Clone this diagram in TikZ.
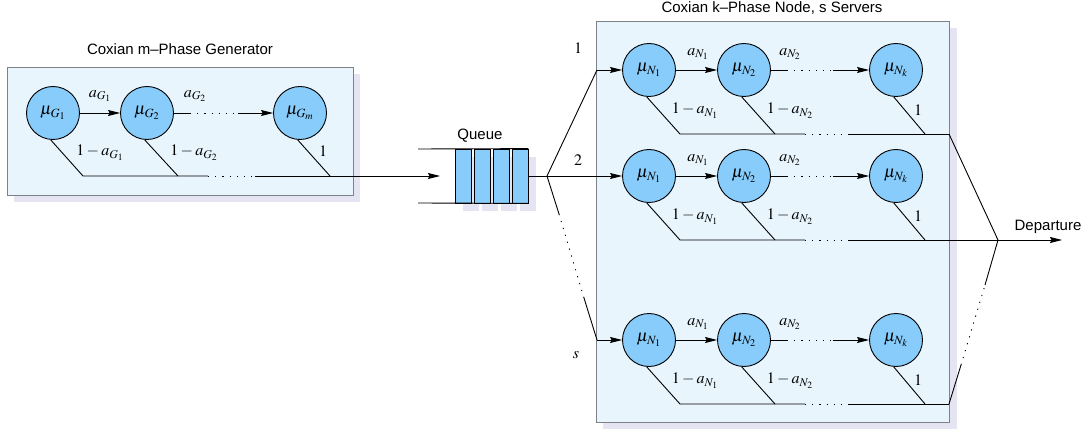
\documentclass[tikz,border=0pt]{standalone}
\usepackage{mathptmx}
\usepackage{fontspec}
\setmainfont{Liberation Sans}
\usetikzlibrary{arrows.meta}

\definecolor{boxfill}{RGB}{232,245,253}
\definecolor{boxline}{RGB}{125,130,135}
\definecolor{lavender}{RGB}{228,228,243}
\definecolor{phaseblue}{RGB}{135,204,250}
\newcommand\mlabel{\fontsize{16}{18}\selectfont}

\begin{document}
\begin{tikzpicture}[x=1pt,y=-1pt,line width=0.9pt,
    >={Stealth[length=12pt,width=6pt,inset=1.5pt]},
    phase/.style={circle,draw,fill=phaseblue,minimum size=53pt,inner sep=0pt,font=\fontsize{17}{19}\selectfont},
    panel/.style={draw=boxline,fill=boxfill,line width=0.8pt},
    backdrop/.style={fill=lavender},
    prob/.style={font=\mlabel,inner sep=1pt},
    heading/.style={font=\fontsize{15}{17}\selectfont,anchor=base,inner sep=0pt},
    dotline/.style={dash pattern=on 1.2pt off 6pt},
    cell/.style={draw,fill=phaseblue,line width=0.8pt,minimum width=16pt,minimum height=54pt,inner sep=0pt}]
\useasboundingbox (0,0) rectangle (1083,430);

% Generator panel
\fill[backdrop] (14,74) rectangle (360,202);
\draw[panel] (7,67) rectangle (353,195);
\node[heading] (gtitle) at (180,55) {Coxian m\textendash Phase Generator};

% Generator phases
\node[phase] (g1) at (53,113) {$\mu_{G_1}$};
\node[phase] (g2) at (147,113) {$\mu_{G_2}$};
\node[phase] (gm) at (300,113) {$\mu_{G_m}$};
\coordinate (gd1) at (190,113);
\coordinate (gd2) at (238,113);
\draw[->] (g1) -- (g2);
\draw (g2) -- (gd1);
\draw[dotline] (gd1) -- (gd2);
\draw[->] (gd2) -- (gm);
\node[prob] (ag1) at (100,96) {$a_{G_1}$};
\node[prob] (ag2) at (195,96) {$a_{G_2}$};

% Generator exits
\coordinate (gx1) at (83,176);
\coordinate (gx2) at (178,176);
\coordinate (gx3) at (208,176);
\coordinate (gx4) at (255,176);
\coordinate (gxm) at (330,176);
\coordinate (qin) at (440,176);
\draw (g1.-95) -- (gx1) -- (gx3);
\draw (g2.-95) -- (gx2);
\draw[dotline] (gx3) -- (gx4);
\draw (gm.-95) -- (gxm);
\draw[->] (gx4) -- (qin);
\node[prob] (bg1) at (100,153) {$1-a_{G_1}$};
\node[prob] (bg2) at (194,153) {$1-a_{G_2}$};
\node[prob] (bgm) at (323,151) {$1$};

% Queue
\foreach \i in {0,...,3} {
  \fill[backdrop] (463+19*\i,157) rectangle ++(16,54);
  \node[cell] (c\i) at (463+19*\i,176) {};
}
\coordinate (qtop) at (418,149);
\coordinate (qbot) at (418,203);
\draw (qtop) -- (c3.north east);
\draw (qbot) -- (c3.south east);
\node[heading] (qlabel) at (480,140) {Queue};
\coordinate (fork) at (547,176);
\draw (c3.east) -- (fork);

% Server panel
\fill[backdrop] (603,28) rectangle (957,429);
\draw[panel] (596,21) rectangle (949,422);
\node[heading] (ntitle) at (772,13) {Coxian k\textendash Phase Node, s Servers};

% Servers
\foreach \r/\y in {1/70, 2/176, 3/340} {
  \node[phase] (n\r-1) at (649,\y) {$\mu_{N_1}$};
  \node[phase] (n\r-2) at (744,\y) {$\mu_{N_2}$};
  \node[phase] (n\r-k) at (896,\y) {$\mu_{N_k}$};
  \coordinate (in\r) at (597,\y);
  \coordinate (d\r-1) at (787,\y);
  \coordinate (d\r-2) at (833,\y);
  \draw[->] (in\r) -- (n\r-1);
  \draw[->] (n\r-1) -- (n\r-2);
  \draw (n\r-2) -- (d\r-1);
  \draw[dotline] (d\r-1) -- (d\r-2);
  \draw[->] (d\r-2) -- (n\r-k);
  \node[prob] (a\r-1) at (698,\y-16) {$a_{N_1}$};
  \node[prob] (a\r-2) at (790,\y-16) {$a_{N_2}$};
  % exits
  \coordinate (x\r-1) at (680,\y+64);
  \coordinate (x\r-2) at (775,\y+64);
  \coordinate (x\r-3) at (805,\y+64);
  \coordinate (x\r-4) at (848,\y+64);
  \coordinate (x\r-k) at (925,\y+64);
  \coordinate (out\r) at (949,\y+64);
  \draw (n\r-1.-95) -- (x\r-1) -- (x\r-3);
  \draw (n\r-2.-95) -- (x\r-2);
  \draw[dotline] (x\r-3) -- (x\r-4);
  \draw (n\r-k.-95) -- (x\r-k);
  \draw (x\r-4) -- (out\r);
  \node[prob] (b\r-1) at (695,\y+41) {$1-a_{N_1}$};
  \node[prob] (b\r-2) at (790,\y+41) {$1-a_{N_2}$};
  \node[prob] (b\r-k) at (918,\y+40) {$1$};
}

% Branches
\coordinate (bs1) at (559,214);
\coordinate (bs2) at (584,298);
\draw (fork) -- (in1);
\draw (fork) -- (in2);
\draw (fork) -- (bs1);
\draw[dotline] (bs1) -- (bs2);
\draw (bs2) -- (in3);
\node[prob] (lb1) at (578,48) {$1$};
\node[prob] (lb2) at (578,160) {$2$};
\node[prob] (lbs) at (576,355) {$s$};

% Departure
\coordinate (join) at (998,240);
\coordinate (dep) at (1062,240);
\coordinate (js1) at (961,365);
\coordinate (js2) at (985,285);
\draw (out1) -- (join);
\draw (out3) -- (js1);
\draw[dotline] (js1) -- (js2);
\draw (js2) -- (join);
\draw[->] (out2) -- (dep);
\node[heading] (deplabel) at (1048,230) {Departure};
\end{tikzpicture}
\end{document}
